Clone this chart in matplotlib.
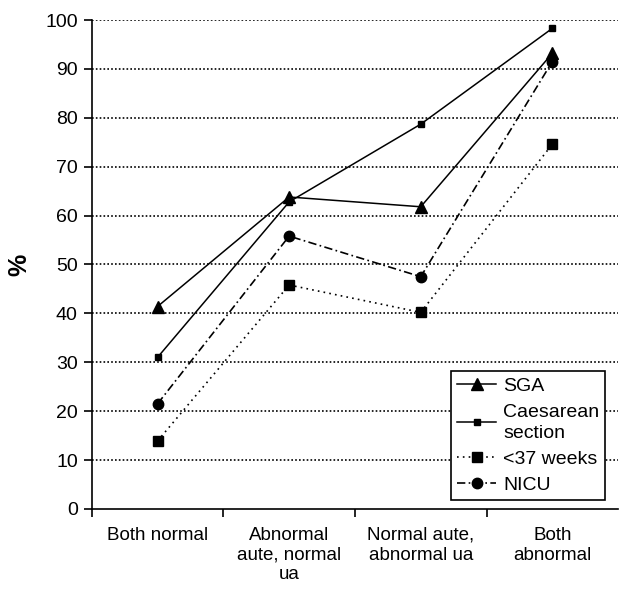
import matplotlib
matplotlib.use("Agg")
import matplotlib.pyplot as plt
from matplotlib.ticker import FixedLocator

plt.rcParams['font.family'] = ['Liberation Sans', 'DejaVu Sans']

categories = ["Both normal", "Abnormal\naute, normal\nua", "Normal aute,\nabnormal ua", "Both\nabnormal"]
sga = [41.4, 63.8, 61.8, 93.2]
caesarean = [31.0, 62.8, 78.7, 98.3]
preterm = [13.9, 45.8, 40.2, 74.6]
nicu = [21.5, 55.8, 47.5, 91.5]
y_ticks = [0, 10, 20, 30, 40, 50, 60, 70, 80, 90, 100]

fig = plt.figure(figsize=(6.2, 5.89), dpi=100)
ax = fig.add_axes([0.148, 0.136, 0.849, 0.830])

x = list(range(len(categories)))
ax.plot(x, sga, color='black', lw=1.1, ls='-', marker='^', ms=8.5, label='SGA', zorder=3)
ax.plot(x, caesarean, color='black', lw=1.1, ls='-', marker='s', ms=4, label='Caesarean\nsection', zorder=3)
ax.plot(x, preterm, color='black', lw=1.2, ls=(0, (1, 2.5)), marker='s', ms=7.5, label='<37 weeks', zorder=3)
ax.plot(x, nicu, color='black', lw=1.2, ls=(0, (5, 2, 1, 2)), marker='o', ms=7.5, label='NICU', zorder=3)

ax.set_xlim(-0.5, 3.5)
ax.set_ylim(0, 100)
ax.set_yticks(y_ticks)
for v in y_ticks[1:]:
    ax.axhline(v, color='black', lw=1.2, ls=(0, (1.0, 1.3)), zorder=1)

ax.set_xticks(x)
ax.set_xticklabels(categories, fontsize=13.5, linespacing=1.2)
ax.xaxis.set_minor_locator(FixedLocator([-0.5, 0.5, 1.5, 2.5]))
ax.tick_params(axis='x', which='major', length=0, pad=13)
ax.tick_params(axis='x', which='minor', length=6, width=1.2, direction='out')
ax.tick_params(axis='y', length=6, width=1.2, labelsize=14, direction='out', pad=4)

for s in ['top', 'right']:
    ax.spines[s].set_visible(False)
for s in ['left', 'bottom']:
    ax.spines[s].set_linewidth(1.2)

ax.set_ylabel('%', fontsize=18, fontweight='bold', labelpad=10)

leg = ax.legend(loc='lower right', bbox_to_anchor=(0.975, 0.018), fontsize=14, frameon=True,
                fancybox=False, edgecolor='black', framealpha=1, handlelength=2.0,
                handletextpad=0.35, borderpad=0.3, labelspacing=0.45, borderaxespad=0)
leg.get_frame().set_linewidth(1.2)
for t in leg.get_texts():
    t.set_linespacing(1.3)

fig.savefig('out.png', dpi=100)
